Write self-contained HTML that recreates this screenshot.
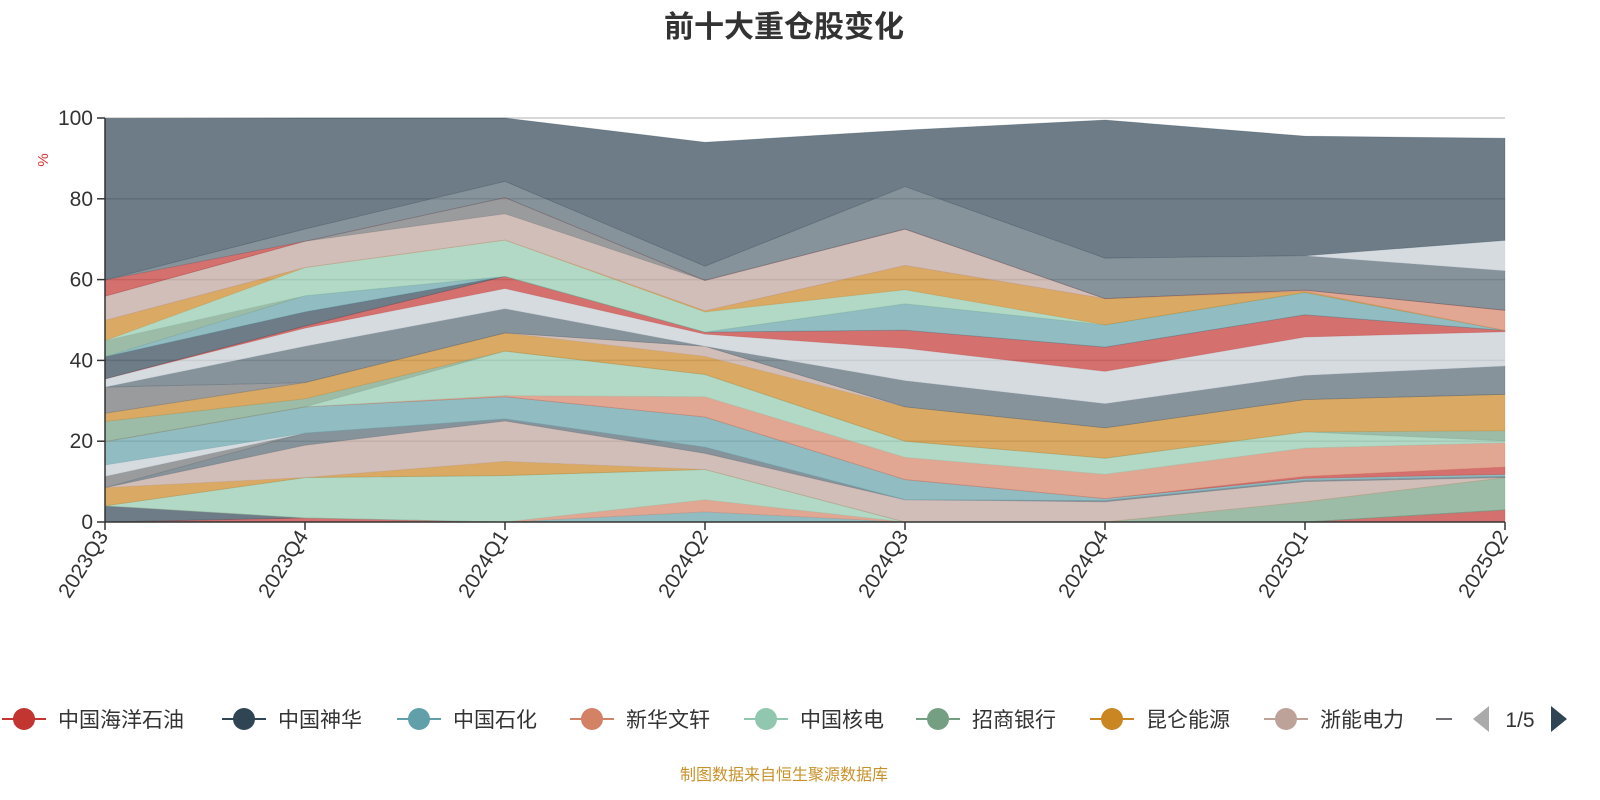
<!DOCTYPE html>
<html><head><meta charset="utf-8"><style>
html,body{margin:0;padding:0;background:#fff;}
svg{display:block;font-family:"Liberation Sans","Noto Sans CJK SC",sans-serif;}
</style></head><body>
<svg id="chart" width="1600" height="800" viewBox="0 0 1600 800">
<text x="784" y="37" text-anchor="middle" font-size="30" font-weight="bold" fill="#333">前十大重仓股变化</text>
<text transform="translate(48,160) rotate(-90)" text-anchor="middle" font-size="15" fill="#e03030">%</text>
<g id="grid"></g>
<g id="areas"></g>
<g id="axes"></g>
<g id="legend"></g>
<text x="784" y="780" text-anchor="middle" font-size="16" fill="#c8922a">制图数据来自恒生聚源数据库</text>
</svg>
<script>
const categories = ["2023Q3","2023Q4","2024Q1","2024Q2","2024Q3","2024Q4","2025Q1","2025Q2"];
const yTicks = [0,20,40,60,80,100];
const legendNames = ["中国海洋石油","中国神华","中国石化","新华文轩","中国核电","招商银行","昆仑能源","浙能电力"];
const s1 = [0,1,0,0,0,0,0,3];
const s2 = [4,0,0,0,0,0,0,0];
const s3 = [0,0,0,2.5,0,0,0,0];
const s4 = [0,0,0,3,0,0,0,0];
const s5 = [0,10,11.5,7.5,0,0,0,0];
const s6 = [0,0,0,0,0,0,5,8];
const s7 = [4.5,0,3.5,0,0,0,0,0];
const s8 = [0,8,10,4,5.5,5,5,0];
const s9 = [0,3,0.5,1.5,0,0.3,0.3,0.3];
const s10 = [2.8,0,0,0,0,0,0,0];
const s11 = [2.8,0,0,0,0,0,0,0];
const s12 = [5.8,6.5,5.5,7.5,5,0.5,0.5,0.5];
const s13 = [0,0,0,0,0,0,0.5,1.8];
const s14 = [0,0,0.3,5,5.5,6,7,6];
const s15 = [0,0,11,5.5,4,4,4,0.5];
const s16 = [5,2,0,0,0,0,0,2.5];
const s17 = [2,4,4.5,4.5,8.5,7.5,8,9];
const s18 = [0,0,0,2.5,0,0,0,0];
const s19 = [6.5,0,0,0,0,0,0,0];
const s20 = [0,9,6,0,6.5,6,6,7];
const s21 = [2,4.5,5,3,8,8,9.5,8.5];
const s22 = [0,0.5,3,0.5,4.5,6,5.5,0.3];
const s23 = [5.5,3.5,0,0,0,0,0,0];
const s24 = [0,4,0,0,6.5,5.5,5.5,0];
const s25 = [4,0,0,0,0,0,0,0];
const s26 = [0,7,9,5,3.5,0,0,0];
const s27 = [5,0,0,0.3,6,6.5,0.3,0];
const s28 = [0,0,0,0,0,0,0.3,5];
const s29 = [6,6.5,6.5,7.5,9,0,0,0];
const s30 = [0,0,4,0,0,0,0,0];
const s31 = [4,0,0,0,0,0,0,0];
const s32 = [0,3,4,3.5,10.5,10,8.5,9.8];
const s33 = [0,0,0,0,0,0,0,7.5];
const s34 = [40,27.5,15.7,30.7,14,34.2,29.6,25.3];
const seriesList = [s1,s2,s3,s4,s5,s6,s7,s8,s9,s10,s11,s12,s13,s14,s15,s16,s17,s18,s19,s20,s21,s22,s23,s24,s25,s26,s27,s28,s29,s30,s31,s32,s33,s34];
const colorIdx = [0,1,2,3,4,5,6,7,9,8,10,2,0,3,4,5,6,7,8,9,10,0,1,2,5,4,6,3,7,8,0,9,10,1];
const palette = ['#c23531','#2f4554','#61a0a8','#d48265','#91c7ae','#749f83','#ca8622','#bda29a','#6e7074','#546570','#c4ccd3'];
const NS = "http://www.w3.org/2000/svg";
const X0 = 105, X1 = 1505, Y0 = 522, Y1 = 118;
const xPos = i => X0 + i * (X1 - X0) / (categories.length - 1);
const yPos = v => Y0 - v / 100 * (Y0 - Y1);
function mk(tag, attrs, parent){ const e = document.createElementNS(NS, tag); for (const k in attrs) e.setAttribute(k, attrs[k]); parent.appendChild(e); return e; }
const grid = document.getElementById('grid');
yTicks.forEach(t => {
  if (t === 0) return;
  const l = mk('line', {x1:X0, x2:X1, y1:yPos(t), y2:yPos(t), stroke:'#ccc', 'stroke-width':1.5}, grid);
  
  
});
const areas = document.getElementById('areas');
let base = categories.map(() => 0);
seriesList.forEach((s, si) => {
  const top = base.map((b, i) => b + s[i]);
  let d = 'M' + top.map((v, i) => xPos(i) + ',' + yPos(v)).join('L');
  for (let i = categories.length - 1; i >= 0; i--) d += 'L' + xPos(i) + ',' + yPos(base[i]);
  d += 'Z';
  const c = palette[colorIdx[si]];
  const p = mk('path', {d: d, fill: c, 'fill-opacity': 0.7, stroke: c, 'stroke-opacity': 0.3, 'stroke-width': 0.8}, areas);
  
  
  base = top;
});
const axes = document.getElementById('axes');
const ya = mk('line', {x1:X0, x2:X0, y1:Y1, y2:Y0, stroke:'#333', 'stroke-width':1.5}, axes);


const xa = mk('line', {x1:X0, x2:X1, y1:Y0, y2:Y0, stroke:'#333', 'stroke-width':1.5}, axes);


yTicks.forEach(t => {
  const tk = mk('line', {x1:X0 - 8, x2:X0, y1:yPos(t), y2:yPos(t), stroke:'#333', 'stroke-width':1.5}, axes);
  
  
  const tx = mk('text', {x:X0 - 12, y:yPos(t) + 7, 'text-anchor':'end', 'font-size':21, fill:'#333'}, axes);
  tx.textContent = t;
  
  
});
categories.forEach((c, i) => {
  const x = xPos(i);
  const tk = mk('line', {x1:x, x2:x, y1:Y0, y2:Y0 + 8, stroke:'#333', 'stroke-width':1.5}, axes);
  
  
  const tx = mk('text', {transform:'translate(' + (x + 4) + ',' + (Y0 + 14) + ') rotate(-58)', 'text-anchor':'end', 'font-size':21, fill:'#333'}, axes);
  tx.textContent = c;
  
  
});
const legend = document.getElementById('legend');
const lx = [2, 222, 397, 570, 744, 916, 1090, 1264];
legendNames.forEach((n, i) => {
  const g = mk('g', {}, legend);
  
  
  const x = lx[i], y = 719, c = palette[i];
  mk('line', {x1:x, x2:x + 44, y1:y, y2:y, stroke:c, 'stroke-width':2}, g);
  mk('circle', {cx:x + 22, cy:y, r:11, fill:c}, g);
  const t = mk('text', {x:x + 56, y:y + 8, 'font-size':21, fill:'#333'}, g);
  t.textContent = n;
});
const partial = mk('line', {x1:1436, x2:1452, y1:719, y2:719, stroke:'#6e7074', 'stroke-width':2}, legend);


const prev = mk('path', {d:'M1489,706 L1473,719 L1489,732 Z', fill:'#aaa'}, legend);


const pg = mk('text', {x:1520, y:727, 'text-anchor':'middle', 'font-size':21, fill:'#333'}, legend);
pg.textContent = '1/5';


const next = mk('path', {d:'M1551,706 L1567,719 L1551,732 Z', fill:'#2f4554'}, legend);


</script>
</body></html>
